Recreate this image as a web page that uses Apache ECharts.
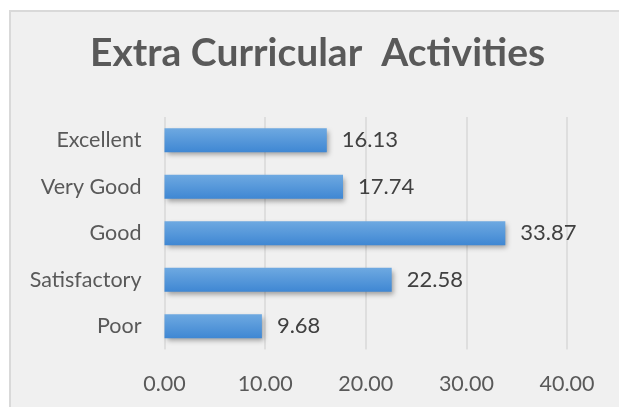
<!DOCTYPE html>
<html><head><meta charset="utf-8">
<script src="https://cdn.jsdelivr.net/npm/echarts@6/dist/echarts.min.js"></script>
<style>html,body{margin:0;padding:0;background:#fff}#c{width:619px;height:407px}</style>
</head><body><div id="c"></div>
<script>
const categories = ['Poor', 'Satisfactory', 'Good', 'Very Good', 'Excellent'];
const values = [9.68, 22.58, 33.87, 17.74, 16.13];
const titleText = 'Extra Curricular  Activities';
const font = 'Lato';
const chart = echarts.init(document.getElementById('c'));
chart.setOption({
  backgroundColor: '#ffffff',
  animation: false,
  graphic: [{
    type: 'rect', z: -10, silent: true,
    shape: { x: 10, y: 11, width: 620, height: 410 },
    style: { fill: '#f0f0f0', stroke: '#d9d9d9', lineWidth: 2 }
  }],
  title: {
    text: titleText, left: 90, top: 34, padding: 0,
    textStyle: { fontFamily: font, fontSize: 39, fontWeight: 'bold', color: '#595959' }
  },
  grid: { left: 164.5, right: 52, top: 117, bottom: 57.5 },
  xAxis: {
    type: 'value', min: 0, max: 40, interval: 10,
    axisLine: { show: false }, axisTick: { show: false },
    splitLine: { lineStyle: { color: '#d9d9d9', width: 1.5 } },
    axisLabel: { margin: 24, fontFamily: font, fontSize: 21.5, color: '#595959',
      formatter: v => v.toFixed(2) }
  },
  yAxis: {
    type: 'category', data: categories,
    axisLine: { show: false }, axisTick: { show: false },
    axisLabel: { margin: 23, fontFamily: font, fontSize: 21.5, color: '#595959' }
  },
  series: [{
    type: 'bar', data: values, barWidth: 24,
    itemStyle: {
      color: new echarts.graphic.LinearGradient(0, 0, 0, 1, [
        { offset: 0, color: '#6ea9e1' }, { offset: 1, color: '#3f87d3' }
      ]),
      shadowColor: 'rgba(0,0,0,0.35)', shadowBlur: 5, shadowOffsetX: 2, shadowOffsetY: 3
    },
    label: { show: true, position: 'right', distance: 15, fontFamily: font, fontSize: 22,
      color: '#404040', formatter: p => p.value.toFixed(2) }
  }]
});
</script></body></html>
